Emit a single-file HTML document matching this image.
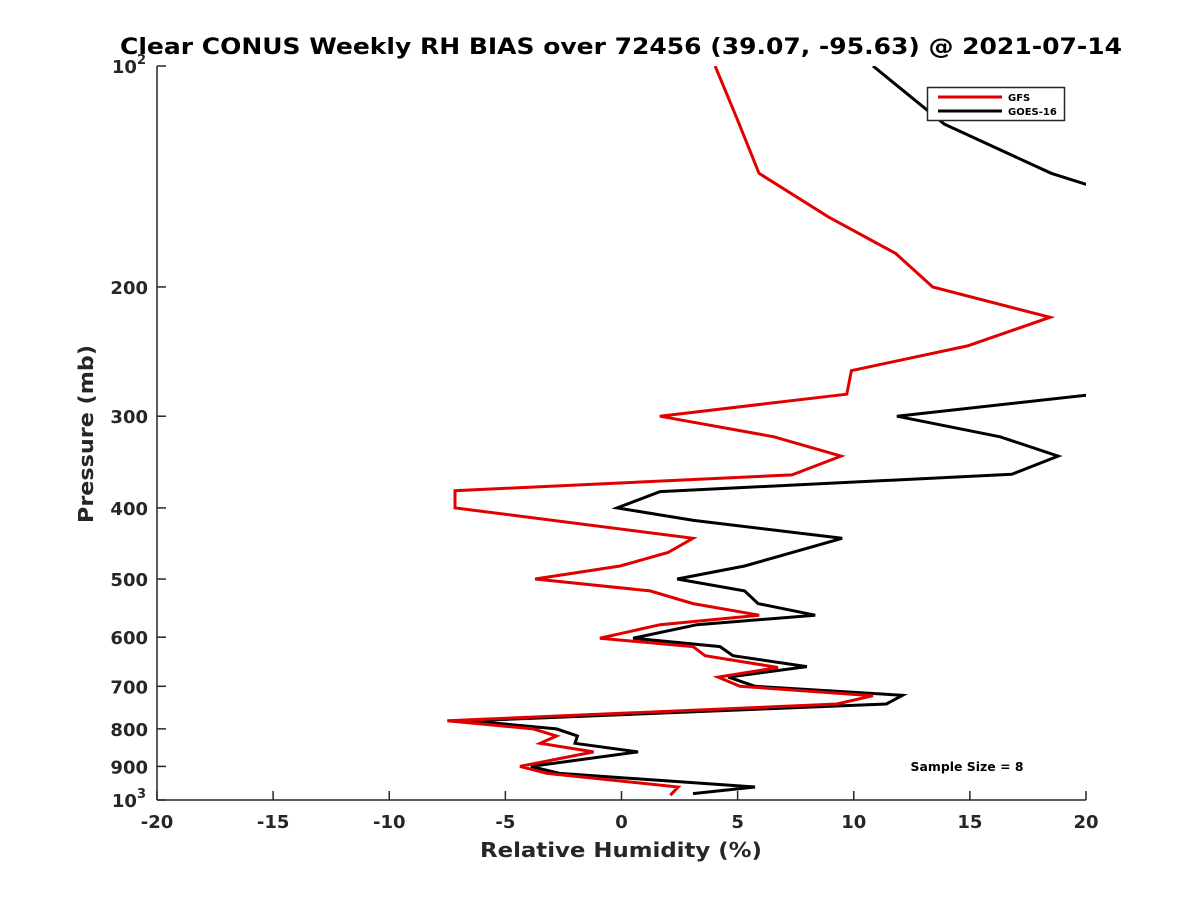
<!DOCTYPE html>
<html><head><meta charset="utf-8"><style>
body{margin:0;background:#fff;}
svg{display:block;font-family:"DejaVu Sans","Liberation Sans",sans-serif;}
</style></head><body>
<svg id="chart" width="1200" height="900" viewBox="0 0 1200 900">
<rect width="1200" height="900" fill="#fff"/>
<defs><clipPath id="plotclip"><rect x="157" y="66" width="929" height="734"/></clipPath></defs>
<text x="621" y="54" text-anchor="middle" font-size="22" font-weight="bold" fill="#000" textLength="1002" lengthAdjust="spacingAndGlyphs">Clear CONUS Weekly RH BIAS over 72456 (39.07, -95.63) @ 2021-07-14</text>
<g id="xticks"></g>
<g id="yticks"></g>
<g id="series" clip-path="url(#plotclip)"></g>
<text x="621" y="857" text-anchor="middle" font-size="20" font-weight="bold" fill="#262626" textLength="282" lengthAdjust="spacingAndGlyphs">Relative Humidity (%)</text>
<text transform="translate(93,434) rotate(-90)" text-anchor="middle" font-size="20" font-weight="bold" fill="#262626" textLength="178" lengthAdjust="spacingAndGlyphs">Pressure (mb)</text>
<g>
<rect x="927.5" y="87.5" width="137" height="33" fill="#fff" stroke="#262626" stroke-width="1.5"/>
<line x1="938" y1="97" x2="1002" y2="97" stroke="#e00000" stroke-width="3"/>
<text x="1008" y="101" font-size="10" font-weight="bold" fill="#000">GFS</text>
<line x1="938" y1="111" x2="1002" y2="111" stroke="#000" stroke-width="3"/>
<text x="1008" y="115" font-size="10" font-weight="bold" fill="#000">GOES-16</text>
</g>
<text x="967" y="771" text-anchor="middle" font-size="12" font-weight="bold" fill="#000" textLength="113" lengthAdjust="spacingAndGlyphs">Sample Size = 8</text>
</svg>
<script>
const xTickValues = [-20,-15,-10,-5,0,5,10,15,20];
const yTickValues = [100,200,300,400,500,600,700,800,900,1000];
const gfsP = [100,118.5,140,160.5,180,200,220,240.6,260,280,300,320,340,360.6,379,400,440,460,480,500,519,540,560,577,602,618,636,660,680,700,721,740,780,800,818,837,860,900,920,960,985];
const gfsX = [4.03,5.0,5.92,8.9,11.8,13.4,18.45,14.9,9.9,9.7,1.65,6.56,9.45,7.34,-7.17,-7.17,3.08,2.0,-0.06,-3.72,1.23,3.08,5.93,1.66,-0.93,3.08,3.6,6.74,4.16,5.1,10.83,9.28,-7.5,-3.8,-2.8,-3.5,-1.2,-4.37,-3.2,2.44,2.1];
const goesP = [100,120,140,150,200,280,300,320,340,360,380,400,416,440,480,500,519,540,560,577,602,618,636,658,680,700,720,740,780,800,818,837,860,900,920,960,980];
const goesX = [10.83,13.9,18.5,21.5,26,20.4,11.86,16.3,18.8,16.8,1.66,-0.19,3.1,9.5,5.3,2.4,5.3,5.88,8.34,3.25,0.5,4.24,4.8,7.98,4.6,5.75,12.1,11.4,-6.5,-2.8,-1.9,-2.0,0.71,-3.9,-2.65,5.75,3.08];

const NS='http://www.w3.org/2000/svg';
const X0=157,X1=1086,Y0=66,Y1=800;
function xs(v){return X0+(v+20)/40*(X1-X0);}
function ys(p){return Y0+(Math.log10(p)-2)*(Y1-Y0);}
function mk(tag,attrs,parent){const e=document.createElementNS(NS,tag);for(const k in attrs)e.setAttribute(k,attrs[k]);parent.appendChild(e);return e;}
const xg=document.getElementById('xticks'),yg=document.getElementById('yticks'),sg=document.getElementById('series');
const xa=mk('line',{x1:X0,y1:Y1,x2:X1,y2:Y1,stroke:'#262626','stroke-width':1.5},xg);


const ya=mk('line',{x1:X0,y1:Y0,x2:X0,y2:Y1,stroke:'#262626','stroke-width':1.5},yg);


xTickValues.forEach(v=>{
  const x=xs(v);
  const t=mk('line',{x1:x,y1:Y1,x2:x,y2:Y1-9,stroke:'#262626','stroke-width':1.5},xg);
  
  
  const l=mk('text',{x:x,y:828,'text-anchor':'middle','font-size':18,'font-weight':'bold',fill:'#262626'},xg);
  l.textContent=String(v);
  
  
});
yTickValues.forEach(p=>{
  const y=ys(p);
  const t=mk('line',{x1:X0,y1:y,x2:X0+9,y2:y,stroke:'#262626','stroke-width':1.5},yg);
  
  
  const l=mk('text',{x:148,y:y+7,'text-anchor':'end','font-size':18,'font-weight':'bold',fill:'#262626'},yg);
  if(p===100||p===1000){
    l.textContent='10';
    const s=mk('tspan',{dy:-9,'font-size':13},l);
    s.textContent=p===100?'2':'3';
    l.setAttribute('x',146);
  } else l.textContent=String(p);
  
  
});
function line(P,X,color,name){
  const pts=P.map((p,i)=>xs(X[i]).toFixed(1)+','+ys(p).toFixed(1)).join(' ');
  const pl=mk('polyline',{points:pts,fill:'none',stroke:color,'stroke-width':3,'stroke-linejoin':'miter'},sg);
  
  
}
line(goesP,goesX,'#000','goes16-line');
line(gfsP,gfsX,'#e00000','gfs-line');
</script>
</body></html>
